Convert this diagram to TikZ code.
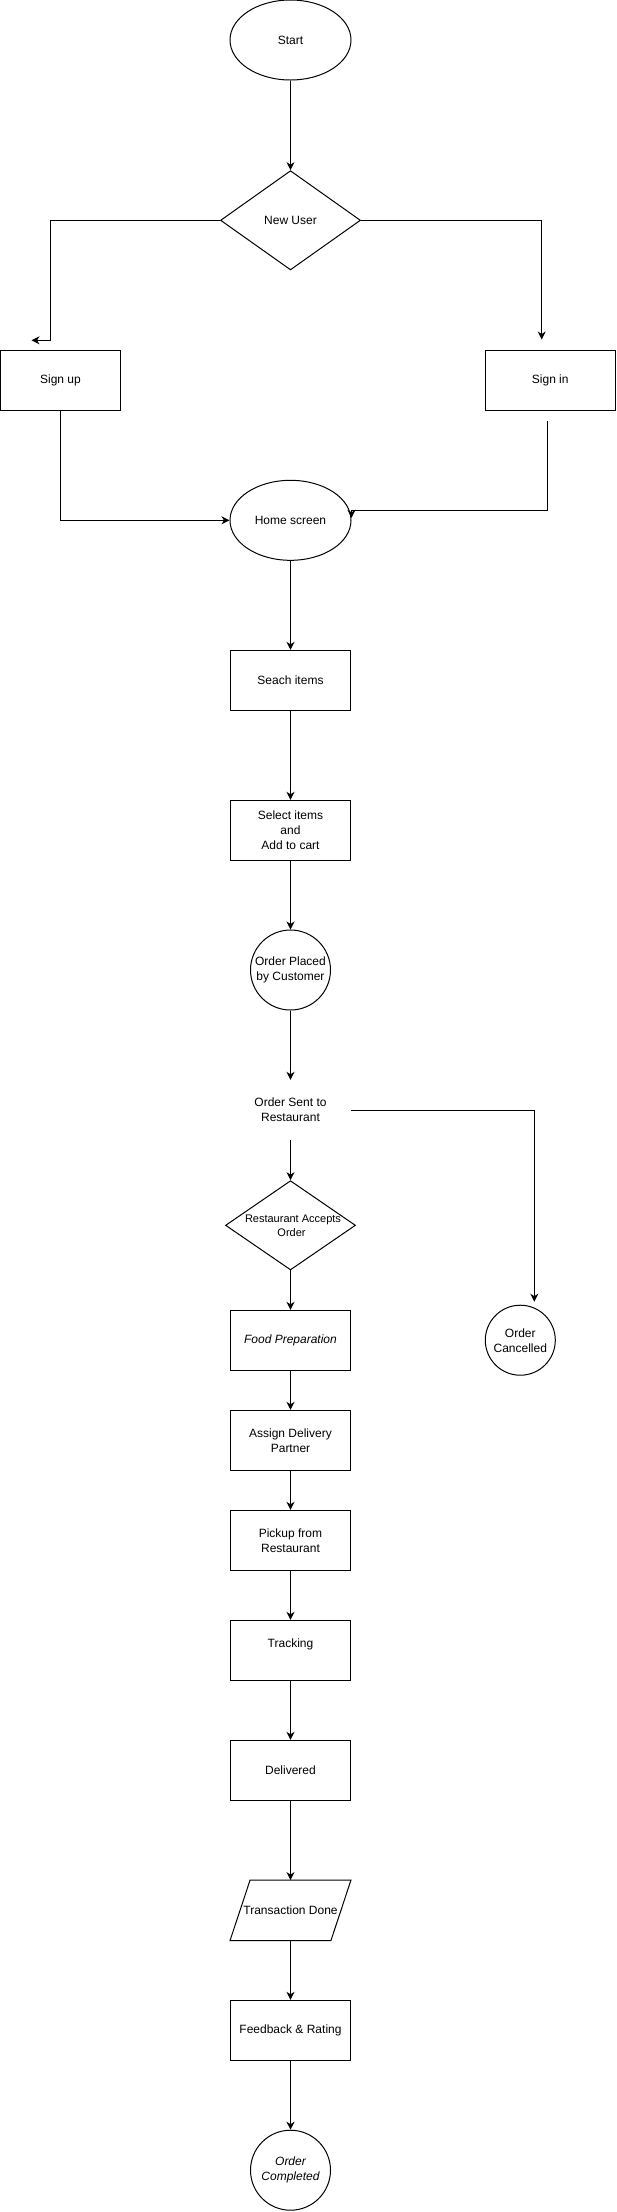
\documentclass[tikz,border=0pt]{standalone}
\usepackage{fontspec}
\setmainfont{Liberation Sans}
\usetikzlibrary{arrows.meta,shapes.geometric}
\tikzset{
  every node/.style={font=\fontsize{12}{15}\selectfont},
  box/.style={draw, rectangle, minimum width=120.5pt, minimum height=60pt, inner sep=0pt, align=center, line width=1pt},
  oval/.style={draw, ellipse, minimum width=121pt, minimum height=80pt, inner sep=0pt, align=center, line width=1pt},
  circ/.style={draw, circle, minimum size=80pt, inner sep=0pt, align=center, line width=1pt},
  dia/.style={draw, diamond, inner sep=0pt, align=center, line width=1pt},
  plain/.style={rectangle, minimum width=120.5pt, minimum height=60pt, inner sep=0pt, align=center},
  arr/.style={-{Stealth[length=8pt,width=8pt,inset=2.5pt]}, line width=1pt},
  conn/.style={line width=1pt},
}
\begin{document}
\begin{tikzpicture}[x=1pt,y=-1pt]
\useasboundingbox (0,0) rectangle (616,2212);

% nodes
\node[oval] (start) at (290.5,40) {Start};
\node[dia, minimum width=140pt, minimum height=99.3pt, aspect=1.41] (newuser) at (290.5,220.3) {\makebox[0pt]{New User}};
\node[box, minimum width=120pt] (signup) at (60.5,380.3) {Sign up};
\node[box, minimum width=130pt] (signin) at (550.25,380.3) {Sign in};
\node[oval] (home) at (290.5,520.3) {Home screen};
\node[box] (search) at (290.5,680.3) {Seach items};
\node[box] (select) at (290.5,830.3) {Select items\\and\\Add to cart};
\node[circ] (placed) at (290.5,970) {Order Placed\\by Customer};
\node[plain] (sent) at (290.5,1110) {Order Sent to\\Restaurant};
\node[dia, minimum width=130pt, minimum height=89.3pt, aspect=1.456, font=\fontsize{11}{14}\selectfont] (accepts) at (290.5,1225.3) {\makebox[0pt]{\hspace*{5pt}Restaurant Accepts}\\\makebox[0pt]{\hspace*{2pt}Order}};
\node[box] (food) at (290.5,1340.3) {\itshape Food Preparation};
\node[circ, minimum size=70pt] (cancelled) at (520.3,1340.2) {Order\\Cancelled};
\node[box] (assign) at (290.5,1440.3) {Assign Delivery\\Partner};
\node[box] (pickup) at (290.5,1540.3) {Pickup from\\Restaurant};
\node[box] (tracking) at (290.5,1650.3) {Tracking\\\phantom{X}};
\node[box] (delivered) at (290.5,1770.3) {Delivered};
\node[plain] (trans) at (290.5,1910.3) {Transaction Done};
\draw[conn] ([xshift=20pt]trans.north west) -- (trans.north east) -- ([xshift=-20pt]trans.south east) -- (trans.south west) -- cycle;
\node[box] (feedback) at (290.5,2030.3) {Feedback \& Rating};
\node[circ] (completed) at (290.5,2170.2) {\itshape Order\\\itshape Completed};

% free ends
\coordinate (lturn) at (50.4,340.3);
\coordinate (lend) at (31.5,340.3);
\coordinate (rend) at (541.7,339.5);
\coordinate (cancTop) at (534.3,1301.7);

% connectors
\draw[arr] (start.south) -- (newuser.north);
\draw[arr] (newuser.west) -| (lturn) -- (lend);
\draw[arr] (newuser.east) -| (rend);
\draw[arr] (signup.south) |- (home.west);
\draw[arr] ([xshift=-2.6pt,yshift=-10.4pt]signin.south) |- ([yshift=10pt]home.east) -- ([yshift=2.5pt]home.east);
\draw[arr] (home.south) -- (search.north);
\draw[arr] (search.south) -- (select.north);
\draw[arr] (select.south) -- (placed.north);
\draw[arr] (placed.south) -- (sent.north);
\draw[arr] (sent.south) -- (accepts.north);
\draw[arr] (sent.east) -| (cancTop);
\draw[arr] (accepts.south) -- (food.north);
\draw[arr] (food.south) -- (assign.north);
\draw[arr] (assign.south) -- (pickup.north);
\draw[arr] (pickup.south) -- (tracking.north);
\draw[arr] (tracking.south) -- (delivered.north);
\draw[arr] (delivered.south) -- (trans.north);
\draw[arr] (trans.south) -- (feedback.north);
\draw[arr] (feedback.south) -- (completed.north);
\end{tikzpicture}
\end{document}
